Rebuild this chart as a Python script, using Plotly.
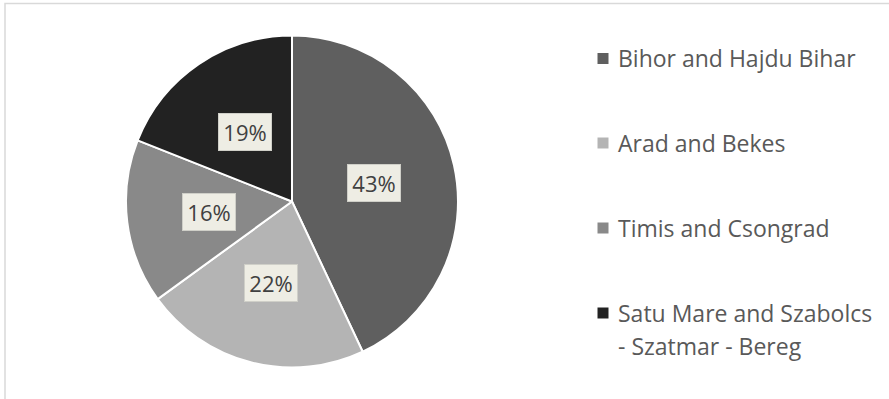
import math
import plotly.graph_objects as go

# Regional shares
regions = [
    "Bihor and Hajdu Bihar",
    "Arad and Bekes",
    "Timis and Csongrad",
    "Satu Mare and Szabolcs<br>- Szatmar - Bereg",
]
shares = [43, 22, 16, 19]
colors = ["#5f5f5f", "#b4b4b4", "#898989", "#222222"]

W, H = 889, 399
CX, CY, R = 292, 201.5, 166  # pie centre and radius in pixels

fig = go.Figure()
fig.add_trace(go.Pie(
    labels=regions,
    values=shares,
    sort=False,
    direction="clockwise",
    rotation=0,
    marker=dict(colors=colors, line=dict(color="white", width=2)),
    textinfo="none",
    hoverinfo="label+percent",
    showlegend=False,
    domain=dict(x=[(CX - R) / W, (CX + R) / W],
                y=[1 - (CY + R) / H, 1 - (CY - R) / H]),
))

# Percentage labels in boxes at mid-angle of each slice
total = sum(shares)
cum = 0
for v in shares:
    mid = (cum + v / 2) / total * 2 * math.pi
    cum += v
    px = CX + 0.506 * R * math.sin(mid)
    py = CY - 0.506 * R * math.cos(mid)
    fig.add_annotation(
        x=px / W, y=1 - py / H, xref="paper", yref="paper",
        text=f"{round(v / total * 100)}%", showarrow=False,
        font=dict(family="Open Sans", size=22, color="#404040"),
        bgcolor="#eeede4", bordercolor="#cfcfc8", borderwidth=1,
        width=50, height=34, xanchor="center", yanchor="middle",
    )

# Legend drawn beside the pie
legend_y = [58.5, 143, 228, 313]
LINE_GAP = 33
for name, col, ly in zip(regions, colors, legend_y):
    fig.add_shape(type="rect", xref="paper", yref="paper",
                  x0=597.5 / W, x1=608.5 / W,
                  y0=1 - (ly + 5.5) / H, y1=1 - (ly - 5.5) / H,
                  fillcolor=col, line=dict(width=0))
    for i, line in enumerate(name.split("<br>")):
        fig.add_annotation(
            x=616 / W, y=1 - (ly + i * LINE_GAP) / H, xref="paper", yref="paper",
            text=line, showarrow=False, align="left",
            xanchor="left", yanchor="middle",
            font=dict(family="Open Sans", size=23, color="#595959"),
        )

# Chart area frame
fig.add_shape(type="rect", xref="paper", yref="paper",
              x0=5 / W, x1=1.02, y0=-0.02, y1=1 - 3.5 / H,
              line=dict(color="#d9d9d9", width=1.5), fillcolor="rgba(0,0,0,0)")

fig.update_layout(
    width=W, height=H,
    margin=dict(l=0, r=0, t=0, b=0),
    paper_bgcolor="white",
    plot_bgcolor="white",
)

fig.write_html("out.html")
